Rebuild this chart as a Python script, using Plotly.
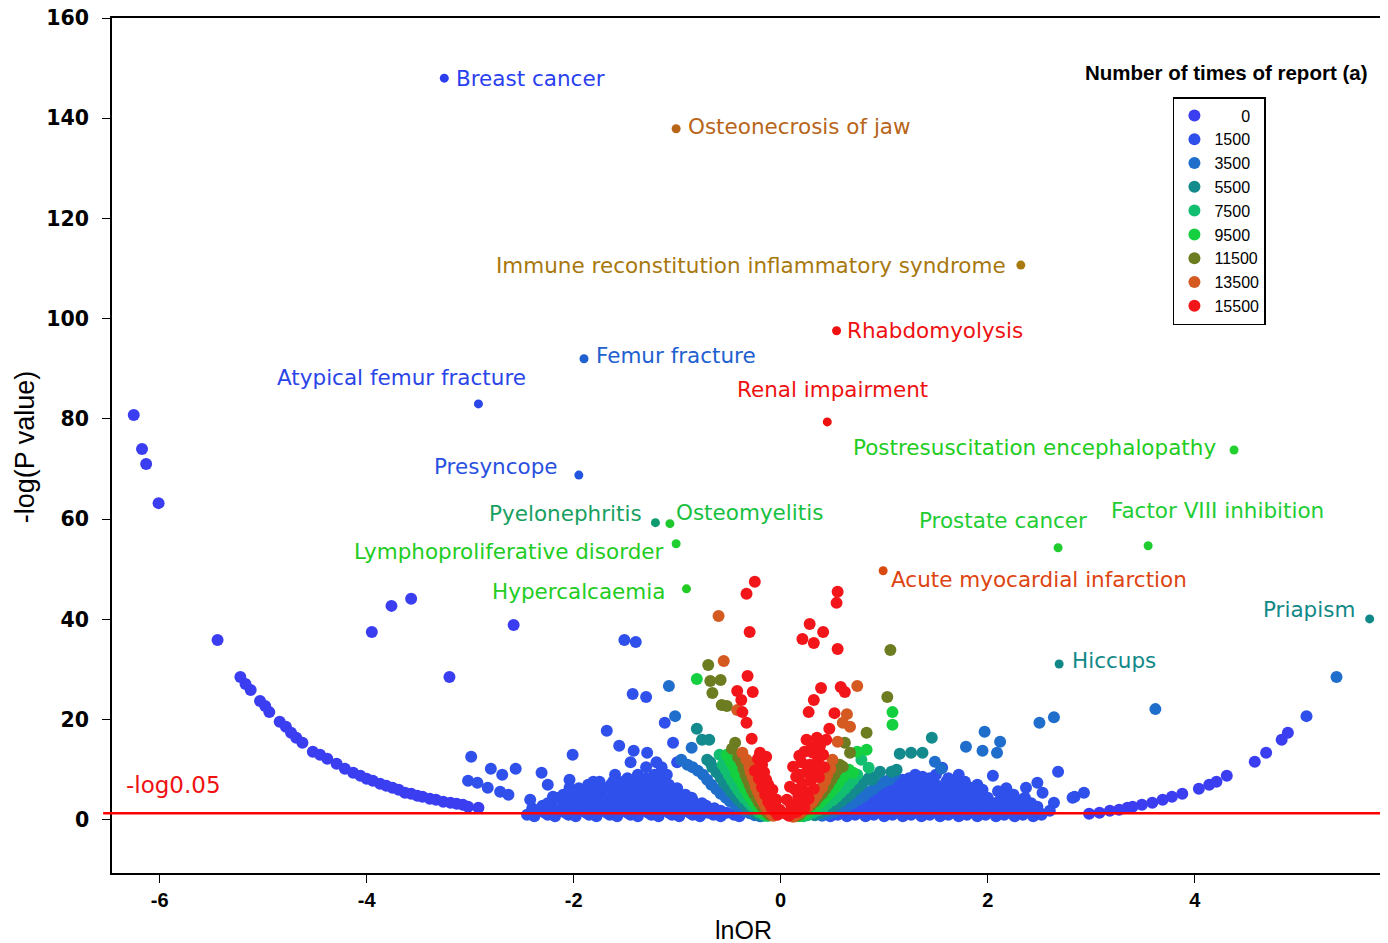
import plotly.graph_objects as go

# ---------------- data (lnOR, -log P) per report-count class ----------------
class_names = ["\u2007\u2007\u20070", "1500", "3500", "5500", "7500", "9500", "11500", "13500", "15500"]
class_colors = ["#3a3ef0", "#2f50ea", "#1f6ecc", "#138a8c", "#12bf70", "#14d040", "#6c7c20", "#d45a22", "#f2161a"]

x_ticks = [-6, -4, -2, 0, 2, 4]
x_ticktext = ["-6", "-4", "-2", "0", "2", "4"]
y_ticks = [0, 20, 40, 60, 80, 100, 120, 140, 160]

x_0 = [-6.25, -6.17, -6.13, -6.01, -5.44, -3.95, -3.76, -3.57, -3.20, -2.58,
       -5.22, -5.17, -5.12, -5.03, -4.98, -4.94, -4.84, -4.78, -4.73, -4.68,
       -4.62, -4.52, -4.45, -4.38, -4.29, -4.21, -4.13, -4.06, -4.00, -3.94,
       -3.87, -3.81, -3.75, -3.69, -3.63, -3.57, -3.51, -3.46, -3.39, -3.33,
       -3.26, -3.19, -3.13, -3.07, -3.02, -2.92,
       2.98, 3.08, 3.18, 3.27, 3.35, 3.40, 3.49, 3.59, 3.69, 3.78,
       3.88, 4.04, 4.14, 4.21, 4.31, 4.58, 4.69, 4.84, 4.90]
y_0 = [80.8, 74.0, 71.0, 63.2, 35.9, 37.5, 42.7, 44.1, 28.5, 38.9,
       28.5, 27.1, 25.9, 23.7, 22.7, 21.5, 19.6, 18.6, 17.4, 16.4,
       15.4, 13.6, 13.0, 12.2, 11.2, 10.2, 9.4, 8.8, 8.2, 7.8,
       7.2, 6.8, 6.4, 6.0, 5.4, 5.2, 4.8, 4.6, 4.2, 4.0,
       3.6, 3.4, 3.2, 3.0, 2.6, 2.4,
       1.2, 1.4, 1.8, 2.0, 2.4, 2.6, 3.0, 3.4, 4.0, 4.6,
       5.2, 6.2, 7.0, 7.6, 8.8, 11.6, 13.4, 16.0, 17.4]

x_1500 = [-2.99, -3.02, -2.93, -2.80, -2.69, -2.56, -2.83, -2.71, -2.63, -2.42,
          -2.31, -2.25, -1.43, -1.68, -1.56, -1.42, -2.01, -2.04, -2.04, -1.81,
          -1.62, -1.53, -2.20, -2.07, -1.91, -1.86, -1.68, -1.49, -1.39, -1.30,
          -1.12, -1.04, -1.29, -1.51, -1.40,
          -2.45, -2.25, -2.05, -1.85, -1.65, -1.45, -1.25, -1.05, -0.85, -0.65, -0.45,
          -2.35, -2.15, -1.95, -1.75, -1.55, -1.35, -1.15, -0.95, -0.80, -0.58,
          -2.30, -2.10, -1.90, -1.70, -1.50, -1.30, -1.10, -0.92, -0.72,
          -2.20, -1.98, -1.78, -1.58, -1.38, -1.18, -1.00, -0.85,
          -2.10, -1.85, -1.62, -1.40, -1.22, -1.05, -0.92,
          -1.95, -1.70, -1.48, -1.28, -1.12, -1.00,
          -1.75, -1.52, -1.33, -1.18,
          -1.60, -1.38, -1.22, -1.10,
          -1.30, -1.15,
          -2.38, -2.18, -1.98, -1.78, -1.58, -1.38, -1.18, -0.98, -0.78, -0.58, -0.40,
          -2.28, -2.08, -1.88, -1.68, -1.48, -1.28, -1.08, -0.88, -0.70, -0.52,
          -2.40, -2.20, -2.00, -1.80, -1.60, -1.40, -1.20, -1.00, -0.82, -0.64,
          -2.25, -2.05, -1.85, -1.65, -1.45, -1.25, -1.05, -0.90, -0.76,
          -2.15, -1.95, -1.72, -1.50, -1.30, -1.12, -0.97, -0.86,
          -2.02, -1.78, -1.56, -1.36, -1.18, -1.02,
          -1.86, -1.64, -1.42, -1.24, -1.08,
          -1.48, -1.30, -1.16,
          -1.45, -1.20, -1.00,
          0.55, 0.72, 0.90, 1.08, 1.26, 1.44, 1.62, 1.80, 1.98, 2.16, 2.34, 2.52,
          0.62, 0.80, 0.98, 1.16, 1.34, 1.52, 1.70, 1.88, 2.06, 2.24, 2.42, 2.60,
          0.75, 0.93, 1.11, 1.29, 1.47, 1.65, 1.83, 2.01, 2.19, 2.37,
          0.86, 1.04, 1.22, 1.40, 1.58, 1.76, 1.94, 2.12, 2.30,
          0.98, 1.16, 1.34, 1.52, 1.70, 1.88, 2.25,
          1.08, 1.26, 1.44, 1.62, 1.80, 2.18,
          1.20, 1.40, 1.60, 1.78,
          1.30, 1.50, 1.72,
          0.48, 0.64, 0.82, 1.00, 1.18, 1.36, 1.54, 1.72, 1.90, 2.08, 2.26, 2.44,
          0.70, 0.88, 1.06, 1.24, 1.42, 1.60, 1.78, 1.96, 2.14, 2.32, 2.50,
          0.68, 0.84, 1.02, 1.20, 1.38, 1.56, 1.74, 1.92, 2.10, 2.28, 2.46,
          0.80, 0.98, 1.16, 1.34, 1.52, 1.70, 1.88, 2.06, 2.24, 2.42,
          0.92, 1.10, 1.28, 1.46, 1.64, 1.82, 2.00, 2.18, 2.36,
          1.02, 1.20, 1.38, 1.56, 1.74, 1.92, 2.10,
          1.14, 1.32, 1.50, 1.70, 1.90,
          1.24, 1.44, 1.62,
          1.18, 1.37, 1.56, 2.68, 2.05, 1.68, 1.85, 1.95, 2.37, 2.48,
          2.53, 2.48, 2.64, 2.84, 2.93, 2.82, 5.08]
y_1500 = [12.6, 7.8, 7.4, 10.2, 9.0, 10.2, 6.4, 5.6, 5.0, 4.0,
          9.4, 7.0, 25.1, 17.8, 14.8, 13.8, 13.0, 8.0, 6.4, 7.6,
          7.6, 7.4, 4.6, 4.0, 5.4, 3.4, 4.0, 4.6, 5.4, 24.5,
          19.4, 15.4, 13.4, 35.9, 35.5,
          1.0, 1.0, 1.0, 1.0, 1.0, 1.0, 1.0, 1.0, 1.0, 1.0, 1.0,
          1.8, 1.8, 1.8, 1.8, 1.8, 1.8, 1.8, 1.8, 1.8, 1.8,
          2.8, 2.8, 2.8, 2.8, 2.8, 2.8, 2.8, 2.8, 2.8,
          3.9, 3.9, 3.9, 3.9, 3.9, 3.9, 3.9, 3.9,
          5.0, 5.0, 5.0, 5.0, 5.0, 5.0, 5.0,
          6.3, 6.3, 6.3, 6.3, 6.3, 6.3,
          7.6, 7.6, 7.6, 7.6,
          9.0, 9.0, 9.0, 9.0,
          10.5, 10.5,
          0.7, 0.7, 0.7, 0.7, 0.7, 0.7, 0.7, 0.7, 0.7, 0.7, 0.7,
          1.4, 1.4, 1.4, 1.4, 1.4, 1.4, 1.4, 1.4, 1.4, 1.4,
          2.3, 2.3, 2.3, 2.3, 2.3, 2.3, 2.3, 2.3, 2.3, 2.3,
          3.3, 3.3, 3.3, 3.3, 3.3, 3.3, 3.3, 3.3, 3.3,
          4.4, 4.4, 4.4, 4.4, 4.4, 4.4, 4.4, 4.4,
          5.7, 5.7, 5.7, 5.7, 5.7, 5.7,
          7.0, 7.0, 7.0, 7.0, 7.0,
          8.3, 8.3, 8.3,
          11.5, 11.5, 11.5,
          1.0, 1.0, 1.0, 1.0, 1.0, 1.0, 1.0, 1.0, 1.0, 1.0, 1.0, 1.0,
          1.8, 1.8, 1.8, 1.8, 1.8, 1.8, 1.8, 1.8, 1.8, 1.8, 1.8, 1.8,
          2.8, 2.8, 2.8, 2.8, 2.8, 2.8, 2.8, 2.8, 2.8, 2.8,
          3.9, 3.9, 3.9, 3.9, 3.9, 3.9, 3.9, 3.9, 3.9,
          5.0, 5.0, 5.0, 5.0, 5.0, 5.0, 5.0,
          6.3, 6.3, 6.3, 6.3, 6.3, 6.3,
          7.6, 7.6, 7.6, 7.6,
          9.0, 9.0, 9.0,
          0.7, 0.7, 0.7, 0.7, 0.7, 0.7, 0.7, 0.7, 0.7, 0.7, 0.7, 0.7,
          1.4, 1.4, 1.4, 1.4, 1.4, 1.4, 1.4, 1.4, 1.4, 1.4, 1.4,
          2.3, 2.3, 2.3, 2.3, 2.3, 2.3, 2.3, 2.3, 2.3, 2.3, 2.3,
          3.3, 3.3, 3.3, 3.3, 3.3, 3.3, 3.3, 3.3, 3.3, 3.3,
          4.4, 4.4, 4.4, 4.4, 4.4, 4.4, 4.4, 4.4, 4.4,
          5.7, 5.7, 5.7, 5.7, 5.7, 5.7, 5.7,
          7.0, 7.0, 7.0, 7.0, 7.0,
          8.3, 8.3, 8.3,
          8.0, 8.6, 10.4, 9.6, 8.8, 7.4, 6.4, 6.0, 6.4, 7.4,
          5.4, 2.6, 3.4, 4.6, 5.4, 4.4, 20.7]

x_3500 = [1.97, 1.79, 1.95, 2.12, 2.09, 2.50, 2.64, 1.55, 3.62, 5.37,
          -1.08, -1.02, -0.96, 1.49, -0.86,
          -0.75, -0.67, -0.58, -0.49, -0.40, -0.30, -0.20, -0.85,
          0.95, 0.85, 0.75, 0.65, 0.52, 0.40, 1.05,
          -0.80, -0.71, -0.62, -0.53, -0.44, -0.35, -0.25, -0.90,
          1.00, 0.90, 0.80, 0.70, 0.58, 0.46, 1.10]
y_3500 = [17.6, 14.6, 13.8, 15.6, 13.4, 19.4, 20.5, 10.2, 22.1, 28.5,
          26.7, 20.7, 12.0, 11.6, 14.4,
          9.0, 7.0, 5.2, 3.7, 2.4, 1.3, 0.7, 10.5,
          7.0, 5.5, 4.0, 2.8, 1.6, 0.8, 8.0,
          9.8, 8.0, 6.1, 4.4, 3.0, 1.8, 0.9, 11.0,
          7.6, 6.2, 4.7, 3.4, 2.2, 1.2, 9.0]

x_5500 = [-0.81, -0.76, -0.69, 1.46, 1.15, 1.26, 1.37, 0.96, 1.07, 1.12, -0.71, 0.88,
          -0.62, -0.55, -0.48, -0.41, -0.33, -0.25, -0.17, -0.68,
          0.80, 0.72, 0.64, 0.54, 0.44, 0.33, 0.90,
          -0.66, -0.58, -0.51, -0.44, -0.37, -0.29, -0.21,
          0.85, 0.76, 0.68, 0.59, 0.49, 0.38]
y_5500 = [18.2, 16.0, 16.0, 16.4, 13.2, 13.4, 13.4, 9.6, 9.6, 10.0, 12.0, 8.0,
          9.5, 7.4, 5.6, 4.0, 2.6, 1.4, 0.8, 11.5,
          7.5, 6.0, 4.5, 3.0, 1.8, 0.9, 8.5,
          10.5, 8.4, 6.5, 4.8, 3.3, 2.0, 1.0,
          8.3, 6.7, 5.2, 3.7, 2.4, 1.3]

x_7500 = [-0.59, 0.85, 0.78,
          -0.53, -0.47, -0.41, -0.35, -0.28, -0.21, -0.14,
          0.70, 0.62, 0.54, 0.45, 0.36, 0.26,
          -0.56, -0.50, -0.44, -0.38, -0.31, -0.24, -0.17,
          0.74, 0.66, 0.58, 0.50, 0.41, 0.31, 0.22]
y_7500 = [13.0, 10.4, 12.0,
          10.0, 7.8, 5.9, 4.3, 2.8, 1.5, 0.8,
          8.0, 6.2, 4.6, 3.2, 1.9, 0.9,
          11.0, 8.9, 6.8, 5.1, 3.5, 2.1, 1.1,
          9.0, 7.1, 5.4, 3.9, 2.5, 1.4, 0.7]

x_9500 = [-0.81, 0.74, 0.83, 1.08, 1.08, -0.49, 0.70,
          -0.45, -0.40, -0.35, -0.30, -0.24, -0.18, -0.12, -0.52,
          0.60, 0.53, 0.46, 0.38, 0.30, 0.22, 0.66,
          -0.48, -0.43, -0.37, -0.32, -0.27, -0.21, -0.15,
          0.63, 0.56, 0.49, 0.42, 0.34, 0.26, 0.18]
y_9500 = [28.1, 13.6, 14.0, 21.5, 19.0, 12.0, 9.4,
          10.5, 8.2, 6.3, 4.6, 3.0, 1.7, 0.8, 13.0,
          8.5, 6.5, 5.0, 3.4, 2.0, 1.0, 10.0,
          11.5, 9.3, 7.2, 5.4, 3.8, 2.3, 1.2,
          9.2, 7.5, 5.7, 4.2, 2.7, 1.5, 0.7]

x_11500 = [-0.70, -0.68, -0.58, -0.66, -0.57, -0.52, -0.44, -0.47, 1.06, 1.03,
           0.83, 0.62, 0.67, 0.60,
           -0.38, -0.34, -0.30, -0.26, -0.21, -0.15, -0.10,
           0.52, 0.46, 0.40, 0.33, 0.25, 0.18, 0.57,
           -0.41, -0.36, -0.32, -0.28, -0.23, -0.18, -0.13,
           0.55, 0.49, 0.43, 0.36, 0.29, 0.21, 0.14]
y_11500 = [30.9, 27.7, 27.9, 25.3, 22.9, 22.7, 15.4, 14.2, 33.9, 24.5,
           17.4, 15.4, 13.4, 10.6,
           11.5, 9.0, 7.0, 5.2, 3.5, 2.0, 0.9,
           9.0, 7.0, 5.2, 3.6, 2.2, 1.0, 11.0,
           12.5, 10.2, 8.0, 6.1, 4.3, 2.7, 1.4,
           10.0, 8.0, 6.1, 4.4, 2.9, 1.6, 0.7]

x_13500 = [-0.60, -0.55, -0.42, -0.37, -0.30, 0.74, 0.64, 0.60, 0.67, 0.55, 0.50,
           -0.30, -0.27, -0.24, -0.20, -0.16, -0.11, -0.07,
           0.45, 0.40, 0.35, 0.30, 0.22, 0.15,
           -0.33, -0.29, -0.25, -0.22, -0.18, -0.14, -0.09,
           0.48, 0.43, 0.37, 0.32, 0.26, 0.19, 0.12]
y_13500 = [40.7, 31.7, 21.9, 13.4, 11.4, 26.7, 21.1, 19.4, 18.6, 15.6, 12.0,
           10.5, 8.5, 6.6, 4.8, 3.2, 1.8, 0.8,
           9.0, 6.5, 5.0, 3.5, 2.0, 1.0,
           12.0, 9.5, 7.5, 5.7, 4.0, 2.5, 1.3,
           10.2, 7.8, 5.8, 4.2, 2.7, 1.5, 0.6]

x_15500 = [-0.25, -0.33, -0.30, -0.32, -0.42, -0.27, -0.38, -0.37, -0.33, -0.28,
           -0.20, -0.14, -0.23, -0.14, -0.08, -0.04, -0.01,
           -0.18, -0.22, -0.16, -0.12, -0.10, -0.06, -0.03, -0.05, -0.09, -0.12,
           -0.15, -0.18, -0.21, -0.25,
           0.55, 0.54, 0.28, 0.41, 0.21, 0.32, 0.55, 0.39, 0.58, 0.62,
           0.32, 0.27, 0.52, 0.47, 0.25, 0.35, 0.44, 0.23, 0.31, 0.41,
           0.12, 0.15, 0.09, 0.06, 0.12,
           0.20, 0.28, 0.36, 0.18, 0.25, 0.33, 0.42, 0.14, 0.21, 0.29,
           0.37, 0.10, 0.17, 0.24, 0.32, 0.05, 0.13, 0.20, 0.27, 0.08,
           0.16, 0.23, 0.30, 0.38, 0.18]
y_15500 = [47.5, 45.1, 37.5, 28.7, 25.7, 25.5, 23.9, 21.5, 19.4, 16.2,
           13.4, 12.6, 10.0, 8.0, 6.0, 4.0, 2.0,
           11.0, 12.2, 9.5, 7.0, 5.5, 3.2, 1.0, 1.6, 2.5, 3.6,
           5.0, 6.5, 8.2, 9.8,
           45.5, 43.3, 39.1, 37.5, 36.1, 35.3, 34.1, 26.3, 26.5, 25.5,
           23.9, 21.5, 21.3, 18.2, 16.0, 16.4, 16.0, 13.6, 13.4, 13.0,
           10.6, 8.6, 6.6, 4.0, 1.4,
           11.5, 11.0, 11.8, 9.0, 9.5, 9.8, 10.5, 6.0, 7.2, 7.8,
           8.5, 3.0, 4.5, 5.5, 6.2, 1.2, 2.5, 3.3, 4.2, 0.8,
           1.6, 2.4, 14.5, 14.8, 12.8]

class_x = [x_0, x_1500, x_3500, x_5500, x_7500, x_9500, x_11500, x_13500, x_15500]
class_y = [y_0, y_1500, y_3500, y_5500, y_7500, y_9500, y_11500, y_13500, y_15500]

# labelled adverse events
lab_names = ["Breast cancer", "Osteonecrosis of jaw", "Immune reconstitution inflammatory syndrome",
             "Rhabdomyolysis", "Femur fracture", "Atypical femur fracture", "Renal impairment",
             "Postresuscitation encephalopathy", "Presyncope", "Pyelonephritis", "Osteomyelitis",
             "Lymphoproliferative disorder", "Prostate cancer", "Factor VIII inhibition",
             "Acute myocardial infarction", "Hypercalcaemia", "Priapism", "Hiccups"]
lab_x = [-3.25, -1.01, 2.32, 0.54, -1.90, -2.92, 0.45, 4.38, -1.95, -1.21, -1.07,
         -1.01, 2.68, 3.55, 0.99, -0.91, 5.69, 2.69]
lab_y = [148.0, 137.9, 110.7, 97.6, 92.0, 83.0, 79.4, 73.8, 68.8, 59.3, 59.1,
         55.1, 54.3, 54.7, 49.7, 46.1, 40.1, 31.1]
lab_dot_colors = ["#2c3ff0", "#b8651a", "#a87a10", "#f01010", "#2060d0", "#2a45e8", "#f01010",
                  "#22d030", "#2255e0", "#109a70", "#20c830", "#20d030", "#20cc30", "#20cc30",
                  "#d84a10", "#22cc22", "#108888", "#108888"]
lab_text_colors = ["#2a3ff0", "#b8651a", "#a8780e", "#ee1111", "#2060d0", "#2a45e8", "#ee1111",
                   "#22cc22", "#2a50e0", "#18a060", "#18c040", "#22cc22", "#22cc33", "#22cc33",
                   "#dd4411", "#22cc22", "#118888", "#118888"]
lab_anchor = ["left", "left", "right", "left", "left", "right", "center", "right", "right", "right",
              "left", "right", "right", "left", "left", "right", "right", "left"]
lab_dx = [10, 10, -13, 8, 10, 50, 5, -16, -19, -11, 4, -10, 31, -39, 6, -19, -13, 11]
lab_dy = [0, 2, 0, 0, 3, 26, 32, 3, 9, 9, 11, -8, 27, 35, -9, -3, 9, 4]

threshold = 1.3  # -log10(0.05)

fig = go.Figure()
for nm, col, xs, ys in zip(class_names, class_colors, class_x, class_y):
    fig.add_trace(go.Scatter(x=xs, y=ys, mode="markers", name=nm,
                             marker=dict(size=12, color=col, line=dict(width=0))))

fig.add_trace(go.Scatter(x=lab_x, y=lab_y, mode="markers", showlegend=False,
                         marker=dict(size=9, color=lab_dot_colors, line=dict(width=0))))

label_font = "DejaVu Sans, Verdana, sans-serif"
for nm, lx, ly, tc, anc, dx, dy in zip(lab_names, lab_x, lab_y, lab_text_colors, lab_anchor, lab_dx, lab_dy):
    fig.add_annotation(x=lx, y=ly, text=nm, showarrow=False, xanchor=anc, yanchor="middle",
                       xshift=dx, yshift=dy, font=dict(family=label_font, size=21.5, color=tc))

fig.add_shape(type="line", xref="paper", yref="y", x0=-0.007, x1=1, y0=threshold, y1=threshold,
              line=dict(color="#ff0000", width=2.5))
fig.add_annotation(xref="paper", yref="y", x=0.0095, y=threshold, yshift=28, xanchor="left",
                   yanchor="middle", text="-log0.05", showarrow=False,
                   font=dict(family=label_font, size=23, color="#ee1111"))

fig.add_annotation(xref="paper", yref="paper", x=0.8785, y=0.9357, text="<b>Number of times of report (a)</b>",
                   showarrow=False, xanchor="center", yanchor="middle",
                   font=dict(family="Liberation Sans, Arial, sans-serif", size=20.5, color="black"))

title_font = "Liberation Sans Narrow, Liberation Sans, Arial, sans-serif"
fig.add_annotation(xref="paper", yref="paper", x=0.4984, y=-0.0667, text="lnOR", showarrow=False,
                   xanchor="center", yanchor="middle",
                   font=dict(family=title_font, size=25, color="black"))
fig.add_annotation(xref="paper", yref="paper", x=-0.0686, y=0.498, text="-log(P value)", showarrow=False,
                   xanchor="center", yanchor="middle", textangle=-90,
                   font=dict(family=title_font, size=27, color="black"))

# the page body adds an 8px offset, so the figure is 8px smaller and margins compensate
fig.update_layout(
    width=1380, height=935, autosize=False,
    margin=dict(l=104, r=8, t=10, b=70, autoexpand=False),
    paper_bgcolor="white", plot_bgcolor="white",
    showlegend=True,
    legend=dict(x=0.8367, y=0.9076, xanchor="left", yanchor="top",
                bordercolor="black", borderwidth=1.5, bgcolor="white",
                font=dict(family="Liberation Sans, Arial, sans-serif", size=16, color="black"),
                traceorder="normal", itemsizing="constant"),
    xaxis=dict(range=[-6.46, 5.79], tickvals=x_ticks, ticktext=x_ticktext, ticks="outside", ticklen=8,
               tickcolor="black", showline=True, mirror=True, linecolor="black", linewidth=1.5,
               showgrid=False, zeroline=False, automargin=False, ticklabeloverflow="allow",
               tickfont=dict(family="Liberation Sans, Arial, sans-serif", size=20, color="black", weight="bold")),
    yaxis=dict(range=[-10.6, 160], tickvals=y_ticks, ticks="outside", ticklabelstandoff=9,
               ticklen=8, tickcolor="black", showline=True, mirror=True, linecolor="black", linewidth=1.5,
               showgrid=False, zeroline=False, automargin=False, ticklabeloverflow="allow",
               tickfont=dict(family="DejaVu Sans, Verdana, sans-serif", size=20.5, color="black", weight="bold")),
)

fig.write_html("out.html")
